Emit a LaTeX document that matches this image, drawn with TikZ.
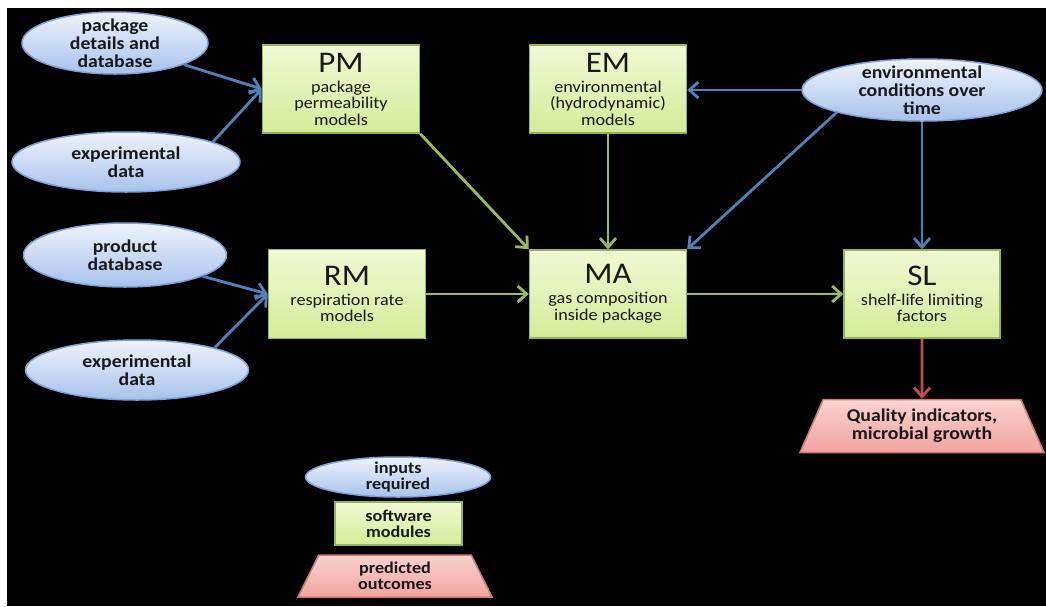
\documentclass[tikz,border=0pt]{standalone}
\usepackage{fontspec}
\setmainfont{Carlito}[FakeStretch=1.1]
\usetikzlibrary{shapes.geometric,arrows.meta}
\definecolor{inpTop}{HTML}{EEF3FC}
\definecolor{inpBot}{HTML}{A7C2EC}
\definecolor{inpLine}{HTML}{7EA2D8}
\definecolor{modTop}{HTML}{F0F9D4}
\definecolor{modBot}{HTML}{D3EC98}
\definecolor{modLine}{HTML}{94B452}
\definecolor{outTop}{HTML}{FAD3D0}
\definecolor{outBot}{HTML}{F1A39E}
\definecolor{outLine}{HTML}{D07A76}
\definecolor{arB}{HTML}{4F81BD}
\definecolor{arG}{HTML}{9BBB59}
\definecolor{arR}{HTML}{C0504D}
\newcommand{\ttl}[1]{{\fontsize{30}{30}\selectfont #1}}
\begin{document}
\begin{tikzpicture}[x=1pt,y=-1pt,
  inp/.style={ellipse, draw=inpLine, line width=1.5pt, top color=inpTop, bottom color=inpBot,
    inner xsep=-20pt, inner ysep=-14pt, align=center, text=black!90,
    font=\fontsize{18}{18}\selectfont\bfseries},
  mod/.style={rectangle, draw=modLine, line width=1.5pt, top color=modTop, bottom color=modBot,
    inner sep=0pt, align=center, text=black!90, font=\fontsize{16.5}{16.5}\selectfont},
  outp/.style={trapezium, trapezium stretches body=true, draw=outLine, line width=1.5pt,
    top color=outTop, bottom color=outBot, inner sep=1pt, align=center, text=black!90,
    font=\fontsize{18}{18}\selectfont\bfseries},
  arr/.style={line width=2.8pt, -{Straight Barb[length=9pt,width=16pt]}},
  ab/.style={arr, draw=arB},
  ag/.style={arr, draw=arG},
  ar/.style={arr, draw=arR}]
\useasboundingbox (0,0) rectangle (1046,606);
\fill[white] (0,0) rectangle (1046,606);
\fill[black] (7,8) rectangle (1046,606);

% inputs
\node[inp, minimum width=186pt, minimum height=62pt] (pdd) at (115,43) {package\\details and\\database};
\node[inp, minimum width=228pt, minimum height=60pt] (ed1) at (126,162) {experimental\\data};
\node[inp, minimum width=203pt, minimum height=64pt] (pdb) at (125,255) {product\\database};
\node[inp, minimum width=223pt, minimum height=60pt] (ed2) at (137,370) {experimental\\data};
\node[inp, minimum width=240pt, minimum height=62pt] (env) at (922,90) {environmental\\conditions over\\time};

% modules
\node[mod, minimum width=157pt, minimum height=88pt] (pm) at (341,89) {\ttl{PM}\\[3.5pt]package\\permeability\\models};
\node[mod, minimum width=157pt, minimum height=88pt] (em) at (608,89) {\ttl{EM}\\[3.5pt]environmental\\(hydrodynamic)\\models};
\node[mod, minimum width=157pt, minimum height=89pt] (rm) at (347,294) {\ttl{RM}\\[3.5pt]respiration rate\\models};
\node[mod, minimum width=157pt, minimum height=88pt] (ma) at (608,294) {\ttl{MA}\\[3.5pt]gas composition\\inside package};
\node[mod, minimum width=156pt, minimum height=88pt] (sl) at (922,294) {\ttl{SL}\\[3.5pt]shelf-life limiting\\factors};

% outcome
\node[outp, trapezium left angle=57, trapezium right angle=57, minimum width=244pt, minimum height=53pt] (q) at (922,426) {Quality indicators,\\microbial growth};

% legend
\node[inp, minimum width=185pt, minimum height=40pt, font=\fontsize{16.5}{16}\selectfont\bfseries] (lin) at (398,477) {inputs\\required};
\node[mod, minimum width=127pt, minimum height=43pt, font=\fontsize{16.5}{16}\selectfont\bfseries] (lmod) at (398.5,523.5) {software\\modules};
\node[outp, trapezium left angle=55, trapezium right angle=55, minimum width=194pt, minimum height=42pt, font=\fontsize{16.5}{16}\selectfont\bfseries] (lout) at (395,576) {predicted\\outcomes};

% connectors
\draw[ab] (pdd) -- (pm.west);
\draw[ab] (ed1.13) -- (pm.west);
\draw[ab] (pdb) -- (rm.west);
\draw[ab] (ed2.16) -- (rm.west);
\draw[ag] (pm.south east) -- (ma.north west);
\draw[ag] (em.south) -- (ma.north);
\draw[ab] (env.south west) -- (ma.north east);
\draw[ab] (env.west) -- (env.west -| em.east);
\draw[ab] (env.south) -- (sl.north);
\draw[ag] (rm.east) -- (rm.east -| ma.west);
\draw[ag] (ma.east) -- (ma.east -| sl.west);
\draw[ar] (sl.south) -- (q.north);
\end{tikzpicture}
\end{document}
